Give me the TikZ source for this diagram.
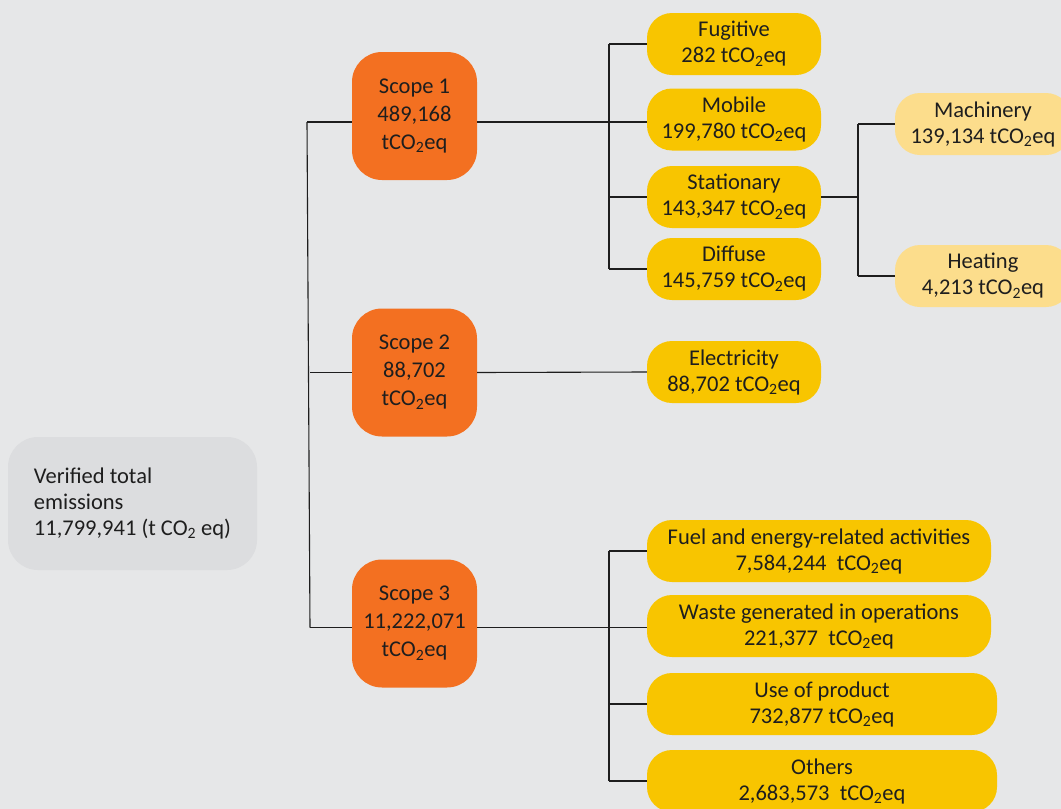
\documentclass[tikz,border=0pt]{standalone}
\usepackage{fontspec}
\setmainfont{Carlito}
\usetikzlibrary{positioning,calc}
\definecolor{BG}{HTML}{E6E7E8}
\definecolor{OR}{HTML}{F37021}
\definecolor{YE}{HTML}{F8C500}
\definecolor{LY}{HTML}{FCDD8C}
\definecolor{GR}{HTML}{DCDDDF}
\definecolor{TX}{HTML}{1E1E1E}
\newcommand{\tco}{tCO\textsubscript{2}eq}

\begin{document}
\begin{tikzpicture}[x=1pt, y=-1pt,
    box/.style={align=center, inner sep=0pt, text=TX,
      font=\fontsize{22.5}{26}\selectfont},
    rootbox/.style={box, fill=GR, rounded corners=30pt, align=left,
      minimum width=249pt, minimum height=133pt},
    scopebox/.style={box, fill=OR, rounded corners=30pt,
      minimum width=125pt, minimum height=128pt,
      font=\fontsize{22.5}{28}\selectfont},
    catbox/.style={box, fill=YE, rounded corners=25pt,
      minimum width=174pt, minimum height=62pt},
    subbox/.style={catbox, fill=LY, minimum width=176pt},
    link/.style={draw=TX, line width=1.1pt}]

  %% ── background ───────────────────────────────────
  \fill[BG] (0,0) rectangle (1061,809);
  \useasboundingbox (0,0) rectangle (1061,809);

  %% ── root and scopes ──────────────────────────────
  \node[rootbox] (root) at (132.5,503.5)
    {Verified total\\emissions\\11,799,941 (t CO\textsubscript{2} eq)};
  \node[scopebox] (s1) at (414.5,116) {Scope 1\\489,168\\\tco};
  \node[scopebox] (s2) at (414.5,372.5) {Scope 2\\88,702\\\tco};
  \node[scopebox] (s3) at (414.5,623.5) {Scope 3\\11,222,071\\\tco};

  %% ── scope 1 categories ───────────────────────────
  \node[catbox] (fug) at (734,44) {Fugitive\\282 \tco};
  \node[catbox] (mob) at (734,119.5) {Mobile\\199,780 \tco};
  \node[catbox] (sta) at (734,197) {Stationary\\143,347 \tco};
  \node[catbox] (dif) at (734,269) {Diffuse\\145,759 \tco};
  \node[subbox] (mac) at (983,124) {Machinery\\139,134 \tco};
  \node[subbox] (hea) at (983,276) {Heating\\4,213 \tco};

  %% ── scope 2 categories ───────────────────────────
  \node[catbox] (ele) at (734,372) {Electricity\\88,702 \tco};

  %% ── scope 3 categories ───────────────────────────
  \node[catbox, minimum width=344pt] (fue) at (819,551)
    {Fuel and energy-related activities\\7,584,244~ \tco};
  \node[catbox, minimum width=344pt] (was) at (819,626)
    {Waste generated in operations\\221,377~ \tco};
  \node[catbox, minimum width=350pt] (use) at (822,704)
    {Use of product\\732,877 \tco};
  \node[catbox, minimum width=350pt] (oth) at (822,781)
    {Others\\2,683,573~ \tco};

  %% ── bus lines ────────────────────────────────────
  \coordinate (busA) at (310,0);
  \coordinate (busB) at (609,0);
  \coordinate (busC) at (858,0);
  \coordinate (j1) at ($(s1.east)+(0,6)$);
  \coordinate (j3) at ($(s3.east)+(0,4)$);

  \draw[link] ($(root.east)+(0,-3)$) -- ($(root.east)+(0,-3)$ -| busA);
  \draw[link] ($(busA |- j1)+(-3,0)$) -- (busA |- j3);
  \draw[link] ($(busA |- j1)+(-3,0)$) -- (j1 -| s1.west);
  \draw[link] (busA |- s2) -- (s2.west);
  \draw[link] (busA |- j3) -- (j3 -| s3.west);

  \draw[link] (j1) -- (j1 -| mob.west);
  \draw[link] (busB |- fug) -- (busB |- dif);
  \foreach \cc in {fug,sta,dif}
    \draw[link] (busB |- \cc) -- (\cc.west);

  \draw[link] (sta.east) -- (sta.east -| busC);
  \draw[link] (busC |- mac) -- (busC |- hea);
  \foreach \cc in {mac,hea}
    \draw[link] (busC |- \cc) -- (\cc.west);

  \draw[link] (s2.east) -- (ele.west);

  \draw[link] (j3) -- (j3 -| was.west);
  \draw[link] (busB |- fue) -- (busB |- oth);
  \foreach \cc in {fue,use,oth}
    \draw[link] (busB |- \cc) -- (\cc.west);

\end{tikzpicture}
\end{document}
